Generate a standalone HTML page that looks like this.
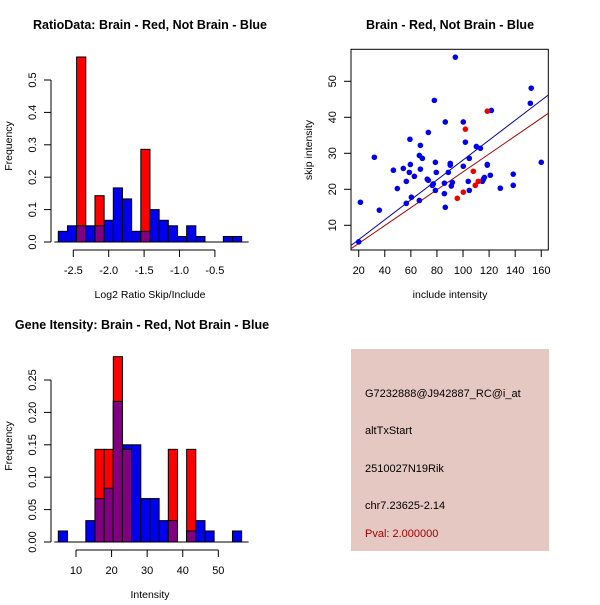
<!DOCTYPE html>
<html><head><meta charset="utf-8"><style>
body{margin:0;background:#fff}
svg text{font-family:"Liberation Sans",sans-serif}
</style></head><body>
<svg id="c" width="600" height="600" xmlns="http://www.w3.org/2000/svg">
<rect width="600" height="600" fill="#fff"/>
<text x="150" y="29" text-anchor="middle" font-size="12.5" font-weight="bold">RatioData: Brain - Red, Not Brain - Blue</text>
<text x="450" y="29" text-anchor="middle" font-size="12.5" font-weight="bold">Brain - Red, Not Brain - Blue</text>
<text x="142" y="329" text-anchor="middle" font-size="12.5" font-weight="bold">Gene Itensity: Brain - Red, Not Brain - Blue</text>
<text x="150" y="298" text-anchor="middle" font-size="10.5">Log2 Ratio Skip/Include</text>
<text x="12" y="146" text-anchor="middle" font-size="10.5" transform="rotate(-90 12 146)">Frequency</text>
<text x="450" y="298" text-anchor="middle" font-size="10.5">include intensity</text>
<text x="312" y="150" text-anchor="middle" font-size="10.5" transform="rotate(-90 312 150)">skip intensity</text>
<text x="150" y="598" text-anchor="middle" font-size="10.5">Intensity</text>
<text x="12" y="446" text-anchor="middle" font-size="10.5" transform="rotate(-90 12 446)">Frequency</text>
<g>
<rect x="351" y="349" width="198" height="202" fill="#e6c8c2"/>
<text x="365" y="397" font-size="11">G7232888@J942887_RC@i_at</text>
<text x="365" y="434" font-size="11">altTxStart</text>
<text x="365" y="472" font-size="11">2510027N19Rik</text>
<text x="365" y="509" font-size="11">chr7.23625-2.14</text>
<text x="365" y="537" font-size="11" fill="#a00000">Pval: 2.000000</text>
</g>
<g id="g1"></g>
<g id="g2"></g>
<g id="g3"></g>
</svg>
<script>
// Histogram 1
const h1Start = -2.712, h1Width = 0.1295;
const h1Blue = [0.033,0.05,0.05,0.05,0.05,0.067,0.167,0.133,0.033,0.033,0.1,0.067,0.05,0.017,0.05,0.017,0,0,0.017,0.017];
const h1Red = [0,0,0.571,0,0.143,0,0,0,0,0.286,0,0,0,0,0,0,0,0,0,0];
const h1XTicks = [-2.5,-2.0,-1.5,-1.0,-0.5];
const h1XLabels = ["-2.5","-2.0","-1.5","-1.0","-0.5"];
const h1YTicks = [0,0.1,0.2,0.3,0.4,0.5];
const h1YLabels = ["0.0","0.1","0.2","0.3","0.4","0.5"];
// Histogram 3
const h3Start = 5.03, h3Width = 2.576;
const h3Blue = [0.017,0,0,0.033,0.067,0.083,0.217,0.15,0.15,0.067,0.067,0.033,0.033,0,0.017,0.033,0.017,0,0,0.017];
const h3Red = [0,0,0,0,0.143,0.143,0.286,0.143,0,0,0,0,0.143,0,0.143,0,0,0,0,0];
const h3XTicks = [10,20,30,40,50];
const h3XLabels = ["10","20","30","40","50"];
const h3YTicks = [0,0.05,0.1,0.15,0.2,0.25];
const h3YLabels = ["0.00","0.05","0.10","0.15","0.20","0.25"];
// Scatter
const blueX = [20,21.3,32,35.8,46.6,49.6,54.2,56.5,56.5,59.3,59.6,58.8,60.4,62.7,66.5,67.3,66.5,68.8,67.3,73.4,72.6,73.4,76.5,77.2,78,78.8,79.5,78.8,86.4,85.7,85.7,86.4,88.7,90.2,90.2,91.8,91,94.1,100.2,100.2,101.8,104.8,104,104.8,110.2,113.3,114.8,115.6,116.4,118.6,118.6,120.9,121.7,128.6,138.5,138.5,151.6,152.3,160];
const blueY = [5.4,16.4,28.9,14.2,25.3,20.2,25.8,22.2,16.1,33.9,26.9,24.7,17.8,23.6,16.9,32.2,29.4,28.6,25.6,35.8,22.8,22.5,21.1,21.5,44.7,27.5,24.7,19.7,15.0,18.8,21.7,38.7,24.7,27.2,26.7,21.9,20.9,56.7,38.7,26.4,33.1,28.6,22.2,19.7,31.9,31.4,22.2,22.8,23.3,26.9,26.7,23.9,41.9,20.3,24.2,21.1,43.9,48.1,27.5];
const redX = [95.6,100.2,101.8,107.9,109.4,111.7,118.6];
const redY = [17.5,19.2,36.7,25.0,21.1,22.2,41.7];
const fitSlope = [0.2763,0.2485];
const fitIntercept = [0.50,0.0];
const fitColors = ["#0000b0","#b00000"];
const scXTicks = [20,40,60,80,100,120,140,160];
const scYTicks = [10,20,30,40,50];

const NS="http://www.w3.org/2000/svg";
function mk(p,t,a){const e=document.createElementNS(NS,t);for(const k in a)e.setAttribute(k,a[k]);p.appendChild(e);return e;}

function hist(g,cfg){
  const sx=v=>cfg.x0+(v-cfg.xv0)*cfg.xk, sy=v=>cfg.y0-v*cfg.yk;
  const n=cfg.blue.length;
  for(let i=0;i<n;i++){
    const a=sx(cfg.start+i*cfg.width), b=sx(cfg.start+(i+1)*cfg.width);
    const bl=cfg.blue[i], rd=cfg.red[i];
    if(bl>0){const r=mk(g,'rect',{x:a,y:sy(bl),width:b-a,height:sy(0)-sy(bl),fill:'#0000ee',stroke:'#000','stroke-width':1});
      
      }
    if(rd>0){const r=mk(g,'rect',{x:a,y:sy(rd),width:b-a,height:sy(0)-sy(rd),fill:'#ff0000',stroke:'#000','stroke-width':1});
      
      
      const m=Math.min(bl,rd);
      if(m>0){const p=mk(g,'rect',{x:a,y:sy(m),width:b-a,height:sy(0)-sy(m),fill:'#800080',stroke:'#000','stroke-width':1});
        
        }}
  }
  mk(g,'line',{x1:sx(cfg.start)-4,x2:sx(cfg.start+n*cfg.width)+7,y1:cfg.y0,y2:cfg.y0,stroke:'#000'});
  const ax=cfg.y0+8;
  mk(g,'line',{x1:sx(cfg.xt[0]),x2:sx(cfg.xt[cfg.xt.length-1]),y1:ax,y2:ax,stroke:'#000'});
  cfg.xt.forEach((v,i)=>{mk(g,'line',{x1:sx(v),x2:sx(v),y1:ax,y2:ax+7,stroke:'#000'});
    const t=mk(g,'text',{x:sx(v),y:ax+24,'text-anchor':'middle','font-size':11});t.textContent=cfg.xl[i];
    
    });
  const yx=cfg.yAxisX;
  mk(g,'line',{x1:yx,x2:yx,y1:sy(cfg.yt[0]),y2:sy(cfg.yt[cfg.yt.length-1]),stroke:'#000'});
  cfg.yt.forEach((v,i)=>{mk(g,'line',{x1:yx-7,x2:yx,y1:sy(v),y2:sy(v),stroke:'#000'});
    const tx=yx-15;const t=mk(g,'text',{x:tx,y:sy(v),'text-anchor':'middle','font-size':11,transform:`rotate(-90 ${tx} ${sy(v)})`});t.textContent=cfg.yl[i];
    
    });
}
hist(document.getElementById('g1'),{start:h1Start,width:h1Width,blue:h1Blue,red:h1Red,x0:73.3,xv0:-2.5,xk:70.8,y0:242,yk:324,xt:h1XTicks,xl:h1XLabels,yt:h1YTicks,yl:h1YLabels,yAxisX:51});
hist(document.getElementById('g3'),{start:h3Start,width:h3Width,blue:h3Blue,red:h3Red,x0:76,xv0:10,xk:3.558,y0:542,yk:648,xt:h3XTicks,xl:h3XLabels,yt:h3YTicks,yl:h3YLabels,yAxisX:51});

(function(){
  const g=document.getElementById('g2');
  const sx=v=>358.7+(v-20)*1.304, sy=v=>225.3-(v-10)*3.6;
  const L=351,R=548.3,T=49.3,B=250;
  mk(g,'rect',{x:L,y:T,width:R-L,height:B-T,fill:'none',stroke:'#000'});
  const xmin=(L-358.7)/1.304+20, xmax=(R-358.7)/1.304+20;
  fitSlope.forEach((s,i)=>{
    const l=mk(g,'line',{x1:sx(xmin),y1:sy(fitIntercept[i]+s*xmin),x2:sx(xmax),y2:sy(fitIntercept[i]+s*xmax),stroke:fitColors[i],'stroke-width':1});
    
    
  });
  blueX.forEach((x,i)=>{const c=mk(g,'circle',{cx:sx(x),cy:sy(blueY[i]),r:2.8,fill:'#0000ee'});
    
    });
  redX.forEach((x,i)=>{const c=mk(g,'circle',{cx:sx(x),cy:sy(redY[i]),r:2.8,fill:'#ee0000'});
    
    });
  scXTicks.forEach(v=>{mk(g,'line',{x1:sx(v),x2:sx(v),y1:B,y2:B+7,stroke:'#000'});
    const t=mk(g,'text',{x:sx(v),y:B+24,'text-anchor':'middle','font-size':11});t.textContent=v;
    
    });
  scYTicks.forEach(v=>{mk(g,'line',{x1:L-7,x2:L,y1:sy(v),y2:sy(v),stroke:'#000'});
    const tx=L-15;const t=mk(g,'text',{x:tx,y:sy(v),'text-anchor':'middle','font-size':11,transform:`rotate(-90 ${tx} ${sy(v)})`});t.textContent=v;
    
    });
})();
</script>
</body></html>
